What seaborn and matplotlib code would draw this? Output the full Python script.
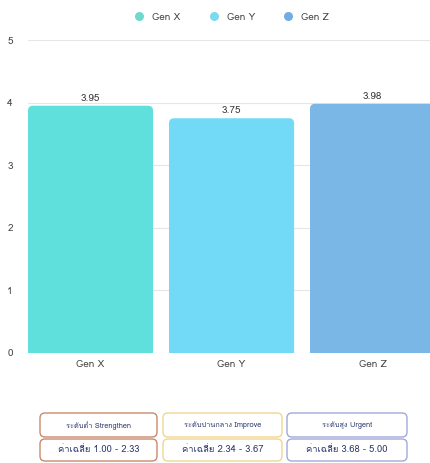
import matplotlib
matplotlib.use("Agg")
import matplotlib.pyplot as plt
from matplotlib import font_manager
from matplotlib.ft2font import FT2Font
from matplotlib.patches import FancyBboxPatch
from matplotlib.lines import Line2D
import seaborn as sns
import pandas as pd

# Data
generations = ["Gen X", "Gen Y", "Gen Z"]
mean_scores = [3.95, 3.75, 3.98]
y_ticks = [0, 1, 2, 3, 4, 5]
level_names = ["ระดับต่ำ Strengthen", "ระดับปานกลาง Improve", "ระดับสูง Urgent"]
level_ranges = ["ค่าเฉลี่ย 1.00 - 2.33", "ค่าเฉลี่ย 2.34 - 3.67", "ค่าเฉลี่ย 3.68 - 5.00"]

bar_colors = ["#5fe0dc", "#72d9f6", "#7ab6e6"]
dot_colors = ["#6fd9cf", "#7cdaf0", "#73ace2"]
level_edges = ["#c98a6a", "#f0d690", "#a2a8da"]

sns.set_theme(style="white")


def find_thai_font():
    for f in font_manager.fontManager.ttflist:
        try:
            cmap = FT2Font(f.fname).get_charmap()
        except Exception:
            continue
        if 0x0E01 in cmap and 0x0E40 in cmap:
            return f.name
    return None


thai = find_thai_font()
families = ([thai] if thai else []) + ["DejaVu Sans"]
plt.rcParams["font.family"] = families

W, H = 430, 463
fig = plt.figure(figsize=(W / 100, H / 100), dpi=100)

# Plot area: 0 at y=353px, 5 at y=40px, left edge x=28px
ax = fig.add_axes([28 / W, (H - 353) / H, (W - 28) / W, 313 / H])

df = pd.DataFrame({"gen": generations, "score": mean_scores})
sns.barplot(data=df, x="gen", y="score", hue="gen", palette=bar_colors,
            width=0.887, legend=False, ax=ax, zorder=2)

bar_w = 0.887
ax.set_xlim(-bar_w / 2, -bar_w / 2 + (W - 28) / 141)
ax.set_ylim(0, 5)

# Replace plain bars with top-rounded versions
px_x = 141.0
px_y = 313 / 5
for patch, col in zip(list(ax.patches), bar_colors):
    x0, w, h = patch.get_x(), patch.get_width(), patch.get_height()
    patch.set_visible(False)
    r = 5 / px_x
    rb = FancyBboxPatch((x0, -0.3), w, h + 0.3,
                        boxstyle=f"round,pad=0,rounding_size={r}",
                        mutation_aspect=px_x / px_y,
                        facecolor=col, edgecolor="none", zorder=2,
                        clip_on=True)
    ax.add_patch(rb)
    ax.text(x0 + w / 2, h + 0.05, f"{h:.2f}", ha="center", va="bottom",
            fontsize=7.2, color="#3a3a3a", zorder=3)

ax.set_yticks(y_ticks)
ax.set_yticklabels([str(t) for t in y_ticks])
ax.grid(axis="y", color="#e6e6e6", linewidth=0.8, zorder=0)
ax.grid(axis="x", visible=False)
for s in ax.spines.values():
    s.set_visible(False)
ax.tick_params(axis="both", length=0, labelsize=7.2, colors="#444444")
ax.tick_params(axis="y", pad=11)
ax.tick_params(axis="x", pad=5)
ax.set_xlabel("")
ax.set_ylabel("")

# Legend
handles = [Line2D([0], [0], marker="o", linestyle="", markersize=6.5,
                  markerfacecolor=c, markeredgecolor="none") for c in dot_colors]
fig.legend(handles, generations, loc="center", bbox_to_anchor=(229 / W, 1 - 17 / H),
           ncol=3, frameon=False, fontsize=7.2, handletextpad=0.3,
           columnspacing=2.3, labelcolor="#444444")

# Level boxes under the chart, in pixel coordinates
ov = fig.add_axes([0, 0, 1, 1], facecolor="none")
ov.set_xlim(0, W)
ov.set_ylim(H, 0)
ov.axis("off")
cols = [(40, 157), (163, 282), (287, 407)]
for (x0, x1), name, rng, ec in zip(cols, level_names, level_ranges, level_edges):
    for (y0, y1), txt, fs in [((413, 437), name, 5.3), ((439, 461), rng, 6.8)]:
        ov.add_patch(FancyBboxPatch((x0, y0), x1 - x0, y1 - y0,
                                    boxstyle="round,pad=0,rounding_size=5",
                                    facecolor="white", edgecolor=ec, linewidth=1.0))
        ov.text((x0 + x1) / 2, (y0 + y1) / 2, txt, ha="center", va="center",
                fontsize=fs, color="#2e3a6e")

fig.savefig("out.png", dpi=100)
